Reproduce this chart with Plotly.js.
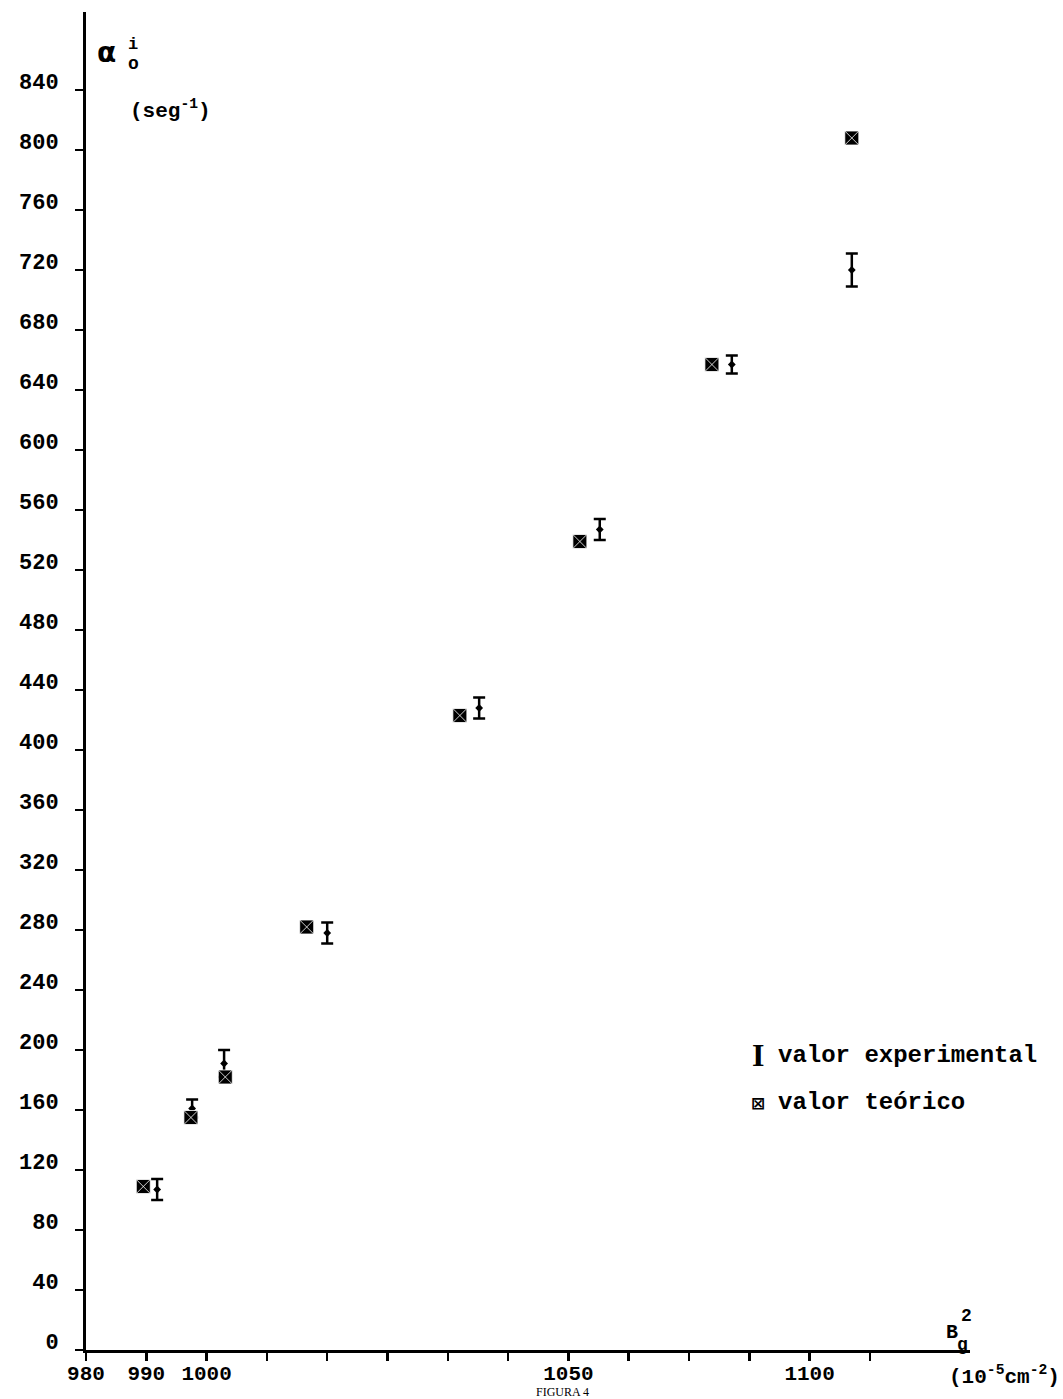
<!DOCTYPE html>
<html>
<head>
<meta charset="utf-8">
<script src="https://cdn.plot.ly/plotly-3.0.1.min.js"></script>
<style>html,body{margin:0;padding:0;background:#fff;}#chart{width:1063px;height:1399px;}</style>
</head>
<body>
<div id="chart"></div>
<script>
// Axis positions are in "tick units" of the hand-drawn, non-uniform B_g^2 axis
const xTickPos = [0,1,2,3,4,5,6,7,8,9,10,11,12,13];
const xLabelPos = [0, 1, 2, 8, 12];
const xLabels = ['980', '990', '1000', '1050', '1100'];
const yTickVals = [0,40,80,120,160,200,240,280,320,360,400,440,480,520,560,600,640,680,720,760,800,840];

// valor teórico (squares)
const xTeo = [0.95, 1.74, 2.31, 3.66, 6.20, 8.19, 10.38, 12.70];
const yTeo = [109, 155, 182, 282, 423, 539, 657, 808];
// valor experimental (error bars)
const xExp = [1.18, 1.76, 2.29, 4.00, 6.52, 8.52, 10.71, 12.70];
const yExp = [107, 161, 191, 278, 428, 547, 657, 720];
const errExp = [7, 6, 9, 7, 7, 7, 6, 11];

const W = 1063, H = 1399, ML = 86, MR = 93, MT = 12, MB = 49;
const PW = W - ML - MR, PH = H - MT - MB;
const px = x => (x - ML) / PW;
const py = y => (H - MB - y) / PH;
const XR = [0, PW / 60.3];
const YR = [0, PH / 1.5];
const HALF = 8; // half length of the cross-shaped ticks (px)

const mono = {family: 'Liberation Mono, DejaVu Sans Mono, monospace', color: '#000', weight: 'bold'};
const f = (size, extra) => Object.assign({}, mono, {size: size}, extra || {});

const traces = [
  {
    x: xExp, y: yExp, type: 'scatter', mode: 'markers', name: 'valor experimental',
    marker: {symbol: 'diamond', size: 6, color: '#000'},
    error_y: {type: 'data', array: errExp, visible: true, color: '#000', thickness: 2.5, width: 6},
    showlegend: false, hoverinfo: 'skip'
  },
  {
    x: xTeo, y: yTeo, type: 'scatter', mode: 'markers', name: 'valor teórico',
    marker: {symbol: 'square-x', size: 14, color: '#000', line: {color: '#fff', width: 0.8}},
    showlegend: false, hoverinfo: 'skip'
  }
];

const baseX = {
  range: XR, tickmode: 'array', tickvals: xTickPos, showgrid: false, zeroline: false,
  ticklen: HALF, tickwidth: 2.5, tickcolor: '#000', fixedrange: true
};
const baseY = {
  range: YR, tickmode: 'array', tickvals: yTickVals, showgrid: false, zeroline: false,
  ticklen: HALF, tickwidth: 2.5, tickcolor: '#000', fixedrange: true
};

const ann = (x, y, text, font, extra) => Object.assign({
  xref: 'paper', yref: 'paper', x: px(x), y: py(y), text: text, showarrow: false,
  font: font, xanchor: 'center', yanchor: 'middle'
}, extra || {});

const layout = {
  width: W, height: H,
  margin: {l: ML, r: MR, t: MT, b: MB, pad: 0},
  paper_bgcolor: '#fff', plot_bgcolor: 'rgba(0,0,0,0)',
  showlegend: false,
  // main axes: lines, labels and the outer half of the ticks
  xaxis: Object.assign({}, baseX, {
    ticktext: xTickPos.map(i => { const k = xLabelPos.indexOf(i); return k >= 0 ? xLabels[k] : ' '; }),
    ticks: 'outside', showline: true, linecolor: '#000', linewidth: 3,
    tickfont: f(21), ticklabelstandoff: -6, anchor: 'y'
  }),
  yaxis: Object.assign({}, baseY, {
    ticks: 'outside', ticktext: yTickVals.map(String), showline: true, linecolor: '#000', linewidth: 3,
    tickfont: f(22), ticklabelshift: -9, ticklabelstandoff: 12, anchor: 'x'
  }),
  // full-length ticks drawn from axes shifted HALF px into the plot, so they cross the axis lines
  xaxis2: Object.assign({}, baseX, {
    ticks: 'outside', ticklen: 2 * HALF, showticklabels: false, showline: false,
    overlaying: 'x', anchor: 'free', position: HALF / PH, side: 'bottom'
  }),
  yaxis2: Object.assign({}, baseY, {
    ticks: 'outside', ticklen: 2 * HALF, showticklabels: false, showline: false,
    overlaying: 'y', anchor: 'free', position: HALF / PW, side: 'left'
  }),
  annotations: [
    ann(106, 52, 'α', {family: 'DejaVu Sans', size: 28, color: '#000', weight: 'bold'}),
    ann(133, 45, 'i', f(17)),
    ann(133, 64, 'o', f(18)),
    ann(128, 110, '(seg<sup>-1</sup>)', f(21), {xanchor: 'left'}),
    ann(952, 1332, 'B', f(20)),
    ann(966, 1316, '2', f(18)),
    ann(962, 1345, 'g', f(18)),
    ann(1062, 1376, '(10<sup>-5</sup>cm<sup>-2</sup>)', f(21), {xanchor: 'right'}),
    ann(758, 1055, 'I', {family: 'Liberation Serif, DejaVu Serif, serif', size: 32, color: '#000', weight: 'bold'}),
    ann(776, 1055, 'valor experimental', f(24), {xanchor: 'left'}),
    ann(758, 1103, '⊠', {family: 'DejaVu Sans', size: 17, color: '#000', weight: 'bold'}),
    ann(776, 1102, 'valor teórico', f(24), {xanchor: 'left'}),
    ann(562, 1392, 'FIGURA 4', {family: 'Liberation Serif, serif', size: 12, color: '#000'})
  ]
};

Plotly.newPlot('chart', traces, layout, {displayModeBar: false, staticPlot: true});
</script>
</body>
</html>
